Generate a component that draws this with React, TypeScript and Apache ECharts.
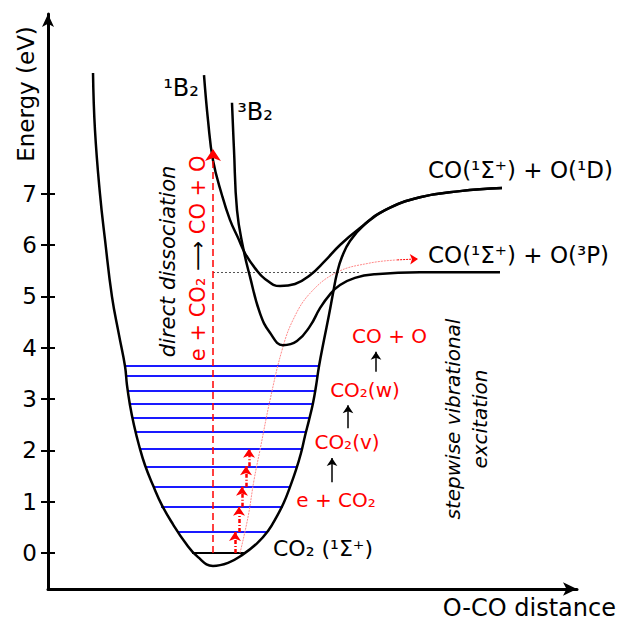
import React, { useEffect, useRef } from "react";
import * as echarts from "echarts";

// ---------- data (distance in arbitrary units, energy in eV) ----------
const energyTicks = [0, 1, 2, 3, 4, 5, 6, 7];

const groundState: number[][] = [
  [0.851, 9.35], [0.888, 8.24], [0.983, 6.99], [1.078, 6.1], [1.21, 4.99],
  [1.342, 4.25], [1.456, 3.64], [1.493, 3.27], [1.55, 2.88], [1.626, 2.49],
  [1.72, 2.1], [1.834, 1.71], [1.985, 1.32], [2.155, 0.93], [2.363, 0.56],
  [2.59, 0.21], [2.836, -0.08], [3.119, -0.25], [3.403, -0.19], [3.667, -0.04],
  [3.951, 0.19], [4.159, 0.43], [4.329, 0.72], [4.461, 0.99], [4.575, 1.29],
  [4.688, 1.62], [4.783, 1.95], [4.858, 2.28], [4.934, 2.59], [5.009, 2.92],
  [5.066, 3.25], [5.123, 3.64], [5.217, 4.15], [5.312, 4.64], [5.388, 5.06],
  [5.463, 5.45], [5.558, 5.77], [5.709, 6.08], [5.992, 6.41], [6.371, 6.68],
  [7.032, 6.93], [7.788, 7.05], [8.582, 7.11],
];

const state1B2: number[][] = [
  [2.949, 9.31], [3.025, 8.43], [3.119, 7.65], [3.289, 6.97], [3.44, 6.49],
  [3.592, 6.14], [3.724, 5.84], [3.913, 5.55], [4.102, 5.34], [4.386, 5.2],
  [4.669, 5.24], [4.953, 5.41], [5.236, 5.69], [5.52, 6.0], [5.898, 6.33],
  [6.371, 6.68], [7.032, 6.93], [7.788, 7.05], [8.582, 7.11],
];

const state3B2: number[][] = [
  [3.478, 8.77], [3.516, 7.85], [3.573, 6.68], [3.686, 5.96], [3.819, 5.38],
  [4.008, 4.67], [4.197, 4.29], [4.442, 4.05], [4.707, 4.13], [4.953, 4.42],
  [5.142, 4.77], [5.331, 5.04], [5.52, 5.22], [5.803, 5.36], [6.181, 5.43],
  [7.032, 5.47], [8.544, 5.47],
];

const vibLevelEnergy = [0.41, 0.9, 1.29, 1.69, 2.03, 2.36, 2.63, 2.9, 3.17, 3.45, 3.64];
const vibLevelLeft = [2.457, 2.136, 1.985, 1.853, 1.739, 1.645, 1.588, 1.55, 1.512, 1.474, 1.456];
const vibLevelRight = [4.159, 4.442, 4.575, 4.707, 4.802, 4.877, 4.953, 5.009, 5.047, 5.085, 5.123];

const groundLevel = { energy: 0, left: 2.722, right: 3.724 };

const thresholdEnergy = 5.47;
const thresholdFrom = 3.119;
const thresholdTo = 5.9;

const directArrowX = 3.119;
const directArrowFrom = 0;
const directArrowTo = 7.87;

const stepArrowX = [3.535, 3.611, 3.667, 3.743, 3.8];
const stepArrowFrom = [0, 0.41, 0.9, 1.29, 1.69];
const stepArrowTo = [0.41, 0.9, 1.29, 1.69, 2.03];

const ladderArrowX = [5.369, 5.671, 6.2];
const ladderArrowFrom = [1.38, 2.43, 3.53];
const ladderArrowTo = [1.85, 2.88, 3.92];

const vibrationalPath: number[][] = [
  [3.629, 0.0], [3.781, 0.7], [3.894, 1.42], [4.008, 2.01], [4.197, 2.98],
  [4.423, 3.95], [4.631, 4.54], [4.953, 5.06], [5.463, 5.47], [6.087, 5.65],
  [6.6, 5.71],
];
const vibrationalArrowEnd = [6.994, 5.73];

// ---------- styling ----------
const FONT = "'DejaVu Sans', sans-serif";
const RED = "#ff0000";

export default function App() {
  const ref = useRef<HTMLDivElement>(null);

  useEffect(() => {
    if (!ref.current) return;
    const chart = echarts.init(ref.current, undefined, { renderer: "svg" });

    const curve = (name: string, data: number[][]) => ({
      name,
      type: "line",
      data,
      smooth: 0.45,
      symbol: "none",
      lineStyle: { color: "#000", width: 2.5 },
      z: 5,
    });

    const ann = (
      at: number[],
      text: string,
      opts: Record<string, any> = {}
    ) => ({
      value: at,
      label: {
        show: true,
        position: "inside",
        formatter: text,
        fontFamily: FONT,
        fontSize: 20,
        color: "#000",
        opacity: 1,
        align: "center",
        verticalAlign: "middle",
        ...opts,
      },
    });

    const option: any = {
      animation: false,
      grid: { left: 48, right: 44, top: 14, bottom: 33 },
      xAxis: {
        type: "value",
        min: 0,
        max: 10,
        axisLine: {
          show: true,
          onZero: false,
          lineStyle: { color: "#000", width: 3 },
          symbol: ["none", "arrow"],
          symbolSize: [10, 14],
        },
        axisTick: { show: false },
        axisLabel: { show: false },
        splitLine: { show: false },
      },
      yAxis: [
        {
          type: "value",
          min: -0.7,
          max: 10.5,
          axisLine: {
            show: true,
            onZero: false,
            lineStyle: { color: "#000", width: 3 },
            symbol: ["none", "arrow"],
            symbolSize: [9, 13],
          },
          axisTick: {
            show: true,
            length: 7,
            lineStyle: { color: "#000", width: 2 },
            customValues: energyTicks,
          },
          axisLabel: {
            customValues: energyTicks,
            fontFamily: FONT,
            fontSize: 23,
            color: "#000",
            margin: 11,
          },
          splitLine: { show: false },
        },
        {
          type: "value",
          min: -0.7,
          max: 10.5,
          position: "left",
          axisLine: { show: false, onZero: false },
          axisTick: {
            show: true,
            inside: true,
            length: 7,
            lineStyle: { color: "#000", width: 2 },
            customValues: energyTicks,
          },
          axisLabel: { show: false },
          splitLine: { show: false },
        },
      ],
      graphic: [
        {
          type: "text",
          x: 26,
          y: 94,
          rotation: Math.PI / 2,
          style: {
            text: "Energy (eV)",
            fontFamily: FONT,
            fontSize: 23,
            fill: "#000",
            align: "center",
            verticalAlign: "middle",
          },
        },
        {
          type: "text",
          x: 616,
          y: 608,
          style: {
            text: "O-CO distance",
            fontFamily: FONT,
            fontSize: 24,
            fill: "#000",
            align: "right",
            verticalAlign: "middle",
          },
        },
      ],
      series: [
        {
          name: "vibrational levels",
          type: "lines",
          coordinateSystem: "cartesian2d",
          data: vibLevelEnergy.map((e, i) => ({
            coords: [
              [vibLevelLeft[i], e],
              [vibLevelRight[i], e],
            ],
          })),
          lineStyle: { color: "#1a1aff", width: 2, opacity: 1 },
          z: 2,
        },
        {
          name: "ground level",
          type: "lines",
          coordinateSystem: "cartesian2d",
          data: [
            {
              coords: [
                [groundLevel.left, groundLevel.energy],
                [groundLevel.right, groundLevel.energy],
              ],
            },
          ],
          lineStyle: { color: "#000", width: 2, opacity: 1 },
          z: 3,
        },
        {
          name: "threshold",
          type: "lines",
          coordinateSystem: "cartesian2d",
          data: [
            {
              coords: [
                [thresholdFrom, thresholdEnergy],
                [thresholdTo, thresholdEnergy],
              ],
            },
          ],
          lineStyle: { color: "#555", width: 1.2, type: [2, 2], opacity: 1 },
          z: 2,
        },
        {
          name: "ladder path",
          type: "line",
          data: vibrationalPath,
          smooth: 0.4,
          symbol: "none",
          lineStyle: { color: "#ff8a8a", width: 1, type: [2, 1] },
          z: 3,
        },
        {
          name: "ladder path arrow",
          type: "lines",
          coordinateSystem: "cartesian2d",
          data: [
            {
              coords: [
                vibrationalPath[vibrationalPath.length - 1],
                vibrationalArrowEnd,
              ],
            },
          ],
          symbol: ["none", "arrow"],
          symbolSize: [5, 8],
          lineStyle: { color: RED, width: 1, type: [2, 1], opacity: 1 },
          z: 3,
        },
        curve("X¹Σ⁺", groundState),
        curve("¹B₂", state1B2),
        curve("³B₂", state3B2),
        {
          name: "direct dissociation",
          type: "lines",
          coordinateSystem: "cartesian2d",
          data: [
            {
              coords: [
                [directArrowX, directArrowFrom],
                [directArrowX, directArrowTo],
              ],
            },
          ],
          symbol: ["none", "arrow"],
          symbolSize: [6, 12],
          lineStyle: { color: RED, width: 1.5, type: [7, 4], opacity: 1 },
          z: 6,
        },
        {
          name: "stepwise arrows",
          type: "lines",
          coordinateSystem: "cartesian2d",
          data: stepArrowX.map((x, i) => ({
            coords: [
              [x, stepArrowFrom[i]],
              [x, stepArrowTo[i]],
            ],
          })),
          symbol: ["none", "arrow"],
          symbolSize: [5.5, 9],
          lineStyle: { color: RED, width: 2.5, type: [4, 2, 1, 2], opacity: 1 },
          z: 6,
        },
        {
          name: "reaction arrows",
          type: "lines",
          coordinateSystem: "cartesian2d",
          data: ladderArrowX.map((x, i) => ({
            coords: [
              [x, ladderArrowFrom[i]],
              [x, ladderArrowTo[i]],
            ],
          })),
          symbol: ["none", "arrow"],
          symbolSize: [4.5, 8],
          lineStyle: { color: "#000", width: 1.5, opacity: 1 },
          z: 6,
        },
        {
          name: "annotations",
          type: "scatter",
          symbolSize: 0,
          silent: true,
          itemStyle: { opacity: 1 },
          z: 10,
          data: [
            ann([2.514, 9.06], "¹B₂", { fontSize: 24 }),
            ann([3.913, 8.59], "³B₂", { fontSize: 24 }),
            ann([7.183, 7.46], "CO(¹Σ⁺) + O(¹D)", { fontSize: 23, align: "left" }),
            ann([7.183, 5.8], "CO(¹Σ⁺) + O(³P)", { fontSize: 23, align: "left" }),
            ann([4.253, 0.09], "CO₂ (¹Σ⁺)", { fontSize: 22, align: "left" }),
            ann([6.456, 4.23], "CO + O", { color: RED }),
            ann([5.992, 3.17], "CO₂(w)", { color: RED }),
            ann([5.652, 2.16], "CO₂(v)", { color: RED }),
            ann([5.444, 1.03], "e + CO₂", { color: RED }),
            ann([7.911, 2.61], "stepwise vibrational\nexcitation", {
              rotate: 90,
              fontStyle: "italic",
              lineHeight: 27,
            }),
            ann([2.268, 5.68], "direct dissociation", {
              rotate: 90,
              fontStyle: "italic",
              fontSize: 21,
            }),
            ann([2.836, 5.74], "{r|e + CO₂} {k|⟶} {r|CO + O}", {
              rotate: 90,
              fontSize: 21,
              rich: {
                r: { color: RED, fontSize: 21, fontFamily: FONT },
                k: { color: "#000", fontSize: 21, fontFamily: FONT },
              },
            }),
          ],
        },
      ],
    };

    chart.setOption(option);
    return () => chart.dispose();
  }, []);

  return (
    <div
      ref={ref}
      style={{
        position: "fixed",
        left: 0,
        top: 0,
        width: 621,
        height: 622,
        background: "#fff",
      }}
    />
  );
}
